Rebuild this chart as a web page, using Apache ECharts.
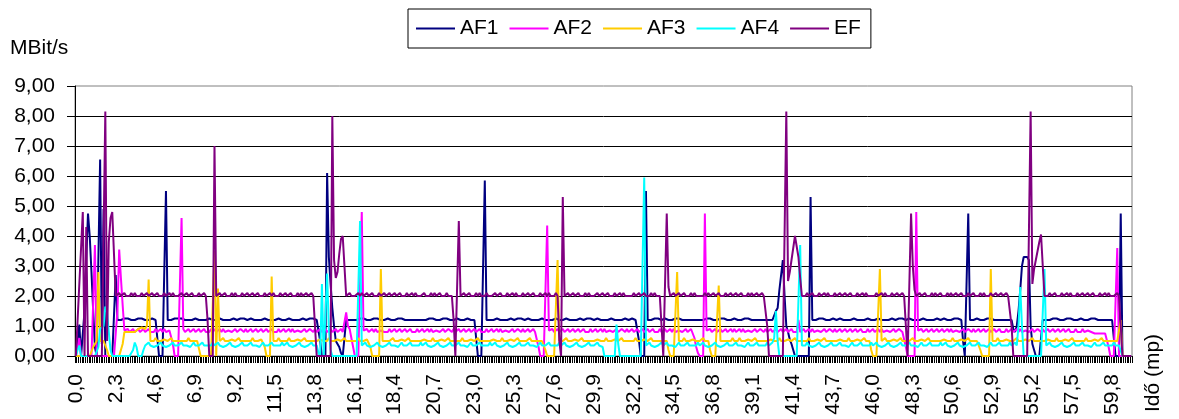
<!DOCTYPE html>
<html><head><meta charset="utf-8">
<script src="https://cdn.jsdelivr.net/npm/echarts@6/dist/echarts.min.js"></script>
<style>html,body{margin:0;padding:0;background:#fff}#c{width:1179px;height:419px}</style>
</head><body><div id="c"></div>
<script>
// ---- data ----
const seriesNames = ['AF1', 'AF2', 'AF3', 'AF4', 'EF'];
const seriesColors = ['#000080', '#FF00FF', '#FFCC00', '#00FFFF', '#800080'];
const yAxisName = 'MBit/s';
const xAxisName = 'Idő (mp)';
const pointCount = 610;      // samples 0,0 .. 60,9 s, step 0,1
const timeStep = 0.1;
const categories = [];
for (let i = 0; i < pointCount; i++) categories.push((i * timeStep).toFixed(1).replace('.', ','));

const AF1 = [
/*0*/   0,0.5,1.05,0,0,1.5,3.2,4.75,4,2.8,  1.5,0.3,0,0,6.55,0.4,4.9,0,0,0,
/*20*/  0,0,0,2.7,1.2,1.25,1.2,1.2,1.25,1.2,  1.25,1.2,1.2,1.25,1.2,1.2,1.25,1.2,1.25,1.2,
/*40*/  1.2,1.25,1.2,1.2,1.25,1.2,1.2,0.6,0,0,  0,0,5.5,1.2,1.25,1.2,1.2,1.25,1.2,1.25,
/*60*/  1.2,1.25,1.2,1.2,1.25,1.2,1.25,1.2,1.2,1.25,  1.2,1.2,1.25,1.2,1.25,1.2,1.2,1.25,1.2,1.2,
/*80*/  1.25,1.2,1.2,1.25,1.2,1.2,1.25,1.2,1.25,1.2,  1.2,1.25,1.2,1.2,1.2,1.25,1.2,1.25,1.2,1.2,
/*100*/ 1.2,1.25,1.2,1.2,1.25,1.2,1.25,1.2,1.2,1.25,  1.2,1.2,1.25,1.2,1.25,1.2,1.2,1.25,1.2,1.2,
/*120*/ 1.25,1.2,1.2,1.25,1.2,1.2,1.25,1.2,1.25,1.2,  1.2,1.25,1.2,1.2,1.2,1.25,1.2,1.25,1.2,1.2,
/*140*/ 1.2,0.5,0,0,0,6.1,3.3,2.4,1.6,1,  0.5,0.4,0.3,0.1,0,0,1.2,1.25,1.2,1.2,
/*160*/ 1.2,1.25,1.2,1.2,1.25,1.2,1.25,1.2,1.2,1.25,  1.2,1.2,1.25,1.2,1.25,1.2,1.2,1.25,1.2,1.2,
/*180*/ 1.25,1.2,1.2,1.25,1.2,1.2,1.25,1.2,1.25,1.2,  1.2,1.25,1.2,1.2,1.2,1.25,1.2,1.25,1.2,1.2,
/*200*/ 1.2,1.25,1.2,1.2,1.25,1.2,1.25,1.2,1.2,1.25,  1.2,1.2,1.25,1.2,1.25,1.2,1.2,1.25,1.2,1.2,
/*220*/ 1.25,1.2,1.2,1.25,1.2,1.2,1.25,1.2,1.2,1.25,  1.2,0.6,0,0,0,0,5.85,1.2,1.25,1.2,
/*240*/ 1.25,1.2,1.2,1.25,1.2,1.2,1.25,1.2,1.25,1.2,  1.2,1.25,1.2,1.2,1.2,1.25,1.2,1.25,1.2,1.2,
/*260*/ 1.2,1.25,1.2,1.2,1.25,1.2,1.25,1.2,1.2,1.25,  1.2,1.2,1.25,1.2,1.25,1.2,1.2,1.25,1.2,1.2,
/*280*/ 1.25,1.2,1.2,1.25,1.2,1.2,1.25,1.2,1.25,1.2,  1.2,1.25,1.2,1.2,1.2,1.25,1.2,1.25,1.2,1.2,
/*300*/ 1.2,1.25,1.2,1.2,1.25,1.2,1.25,1.2,1.2,1.25,  1.2,1.2,1.25,1.2,1.25,1.2,1.2,1.25,1.2,1.2,
/*320*/ 1.2,1.25,1.2,1.2,1.2,0.5,0,0,0,5.5,  1.2,1.25,1.2,1.2,1.25,1.2,1.25,1.2,1.2,1.25,
/*340*/ 1.25,1.2,1.2,1.25,1.2,1.2,1.25,1.2,1.25,1.2,  1.2,1.25,1.2,1.2,1.2,1.25,1.2,1.25,1.2,1.2,
/*360*/ 1.2,1.25,1.2,1.2,1.25,1.2,1.25,1.2,1.2,1.25,  1.2,1.2,1.25,1.2,1.25,1.2,1.2,1.25,1.2,1.2,
/*380*/ 1.25,1.2,1.2,1.25,1.2,1.2,1.25,1.2,1.25,1.2,  1.2,1.25,1.2,1.2,1.2,1.25,1.2,1.25,1.2,1.2,
/*400*/ 1.2,1.25,1.2,1.2,1.5,1.6,2.2,2.25,3.2,2,  1,0.8,0.55,0.4,0.2,0,0,0,0,0,
/*420*/ 0,0,0,0,5.3,1.2,1.25,1.2,1.2,1.25,  1.2,1.25,1.2,1.2,1.25,1.2,1.2,1.25,1.2,1.2,
/*440*/ 1.2,1.25,1.2,1.2,1.25,1.2,1.25,1.2,1.2,1.25,  1.2,1.2,1.25,1.2,1.25,1.2,1.2,1.25,1.2,1.2,
/*460*/ 1.25,1.2,1.2,1.25,1.2,1.2,1.25,1.2,1.25,1.2,  1.2,1.25,1.2,1.2,1.2,1.25,1.2,1.25,1.2,1.2,
/*480*/ 1.2,1.25,1.2,1.2,1.25,1.2,1.25,1.2,1.2,1.25,  1.2,1.2,1.25,1.2,1.25,1.2,1.2,1.25,1.2,1.2,
/*500*/ 1.2,1.25,1.2,1.2,1.25,1.2,1.2,1.25,1.2,1.25,  1.2,1.2,0.5,0,0,4.75,1.2,1.25,1.2,1.2,
/*520*/ 1.25,1.2,1.2,1.25,1.2,1.2,1.25,1.2,1.25,1.2,  1.2,1.25,1.2,1.2,1.2,1.25,1.2,1.25,1.2,1.2,
/*540*/ 1.2,0.9,0.8,1,1.5,2.2,3,3.3,3.3,3.3,  3.2,1,0.4,0.2,0,0,0,0,1.2,1.25,
/*560*/ 1.2,1.25,1.2,1.2,1.25,1.2,1.25,1.2,1.2,1.25,  1.2,1.2,1.25,1.2,1.25,1.2,1.2,1.25,1.2,1.2,
/*580*/ 1.25,1.2,1.2,1.25,1.2,1.2,1.25,1.2,1.25,1.2,  1.2,1.25,1.2,1.2,1.2,1.25,1.2,1.25,1.2,0.6,
/*600*/ 0,0,0,4.75,0,0,0,0,0,0
];

const AF2 = [
/*0*/   0,0.3,0.6,0,0,0,0,0,0,0,  1.8,3.7,0,0,0,0,0,0,0,0,
/*20*/  0,0,0,0,1.5,3.55,2.6,1.7,0.85,0.8,  0.9,0.8,0.8,0.9,0.8,0.85,0.9,0.8,0.8,0.9,
/*40*/  0.8,0.8,0.9,0.8,0.85,0.8,0.9,0.8,0.8,0.9,  0.8,0.9,0.8,0.8,0.85,0.9,0.4,0,0,0,
/*60*/  0,4.6,0.9,0.8,0.8,0.9,0.8,0.85,0.9,0.8,  0.8,0.9,0.8,0.8,0.9,0.8,0.85,0.8,0.9,0.8,
/*80*/  0.9,0.8,0.8,0.9,0.8,0.9,0.8,0.8,0.85,0.9,  0.8,0.8,0.9,0.8,0.8,0.9,0.85,0.8,0.9,0.8,
/*100*/ 0.8,0.9,0.8,0.8,0.9,0.8,0.85,0.9,0.8,0.8,  0.9,0.8,0.8,0.9,0.8,0.85,0.8,0.9,0.8,0.8,
/*120*/ 0.9,0.8,0.8,0.9,0.8,0.9,0.8,0.8,0.85,0.9,  0.8,0.8,0.9,0.8,0.8,0.9,0.85,0.8,0.9,0.8,
/*140*/ 0.8,0.9,0.8,0.8,0.9,0.8,0.85,0.9,0.8,0.8,  0.9,0.8,0.8,0.9,0.8,0.85,1.45,1,0.9,0.6,
/*160*/ 0.3,0,0,0,0,4.8,0.85,0.8,0.9,0.8,  0.8,0.9,0.8,0.9,0.8,0.8,0.85,0.9,0.8,0.8,
/*180*/ 0.8,0.9,0.8,0.8,0.9,0.8,0.85,0.9,0.8,0.8,  0.9,0.8,0.8,0.9,0.8,0.85,0.8,0.9,0.8,0.8,
/*200*/ 0.9,0.8,0.8,0.9,0.8,0.9,0.8,0.8,0.85,0.9,  0.8,0.8,0.9,0.8,0.8,0.9,0.85,0.8,0.9,0.8,
/*220*/ 0.8,0.9,0.8,0.8,0.9,0.8,0.85,0.9,0.8,0.8,  0.9,0.8,0.8,0.9,0.8,0.85,0.8,0.9,0.8,0.8,
/*240*/ 0.9,0.8,0.8,0.9,0.8,0.9,0.8,0.8,0.85,0.9,  0.8,0.8,0.9,0.8,0.8,0.9,0.85,0.8,0.9,0.8,
/*260*/ 0.8,0.9,0.8,0.8,0.9,0.8,0.85,0.3,0,0,  0,0,4.35,0.85,0.8,0.9,0.8,0.8,0.9,0.8,
/*280*/ 0.8,0.9,0.8,0.8,0.9,0.8,0.85,0.9,0.8,0.8,  0.9,0.8,0.8,0.9,0.8,0.85,0.8,0.9,0.8,0.8,
/*300*/ 0.9,0.8,0.8,0.9,0.8,0.9,0.8,0.8,0.85,0.9,  0.8,0.8,0.9,0.8,0.8,0.9,0.85,0.8,0.9,0.8,
/*320*/ 0.8,0.9,0.8,0.8,0.9,0.8,0.85,0.9,0.8,0.8,  0.9,0.8,0.8,0.9,0.8,0.85,0.8,0.9,0.8,0.8,
/*340*/ 0.9,0.8,0.8,0.9,0.8,0.9,0.8,0.8,0.85,0.9,  0.8,0.8,0.9,0.8,0.8,0.9,0.85,0.6,0.3,0.1,
/*360*/ 0,0,0,4.75,0.85,0.8,0.9,0.8,0.8,0.9,  0.8,0.85,0.9,0.8,0.8,0.9,0.8,0.8,0.9,0.8,
/*380*/ 0.9,0.8,0.8,0.9,0.8,0.9,0.8,0.8,0.85,0.9,  0.8,0.8,0.9,0.8,0.8,0.9,0.85,0.8,0.9,0.8,
/*400*/ 0.8,0.9,0.8,0.8,0.9,0.8,0.85,0.9,0.8,0.8,  0.9,0.8,0.8,0.9,0.8,0.85,0.8,1.2,0.8,0.8,
/*420*/ 0.9,0.8,0.8,0.9,0.8,0.9,0.8,0.8,0.85,0.9,  0.8,0.8,0.9,0.8,0.8,0.9,0.85,0.8,0.9,0.8,
/*440*/ 0.8,0.9,0.8,0.8,0.9,0.8,0.85,0.9,0.8,0.8,  0.9,0.8,0.8,0.9,0.8,0.85,0.8,0.9,0.8,0.8,
/*460*/ 0.9,0.8,0.8,0.9,0.8,0.9,0.8,0.8,0.85,0.9,  0.8,0.8,0.9,0.8,0.8,0.9,0.85,0.8,0.85,0.3,
/*480*/ 0,0,0,0,0,4.8,0.85,0.8,0.9,0.8,  0.8,0.9,0.8,0.85,0.9,0.8,0.8,0.9,0.8,0.8,
/*500*/ 0.9,0.8,0.8,0.9,0.8,0.9,0.8,0.8,0.85,0.9,  0.8,0.8,0.9,0.8,0.8,0.9,0.85,0.8,0.9,0.8,
/*520*/ 0.8,0.9,0.8,0.8,0.9,0.8,0.85,0.9,0.8,0.8,  0.9,0.8,0.8,0.9,0.8,0.85,0.8,0.9,0.8,0.8,
/*540*/ 0.9,0.8,0.8,0.9,0.8,0.9,0.8,0.8,0.85,0.9,  0.8,0.8,0.9,0.8,0.8,0.9,0.85,0.8,0.9,0.8,
/*560*/ 0.8,0.9,0.8,0.8,0.9,0.8,0.85,0.9,0.8,0.8,  0.9,0.8,0.8,0.9,0.8,0.85,0.8,0.9,0.8,0.8,
/*580*/ 0.8,0.9,0.8,0.8,0.85,0.8,0.8,0.75,0.75,0.8,  0.75,0.75,0.75,0.8,0.75,0.75,0.3,0,0,0,
/*600*/ 0,3.6,0,0,0,0,0,0,0,0
];

const AF3 = [
/*0*/   0,0,0,0,0,0,0,0,0,0,  0.3,0.4,0.5,2.8,0.5,0.5,0.5,0.5,0.2,0,
/*20*/  0,0,0,0,0,0,0,0.4,0.8,0.8,  0.8,0.75,0.8,0.75,0.8,0.85,0.9,0.9,0.95,0.9,
/*40*/  0.9,1,2.55,0.5,0.5,0.5,0.6,0.5,0.5,0.5,  0.5,0.55,0.5,0.5,0.5,0.6,0.5,0.5,0.5,0.5,
/*60*/  0.5,0.55,0.5,0.5,0.5,0.6,0.5,0.5,0.5,0.5,  0.5,0.25,0,0,0,0,0,0,0,0,
/*80*/  3.5,0,2.25,0.5,0.5,0.6,0.5,0.5,0.5,0.5,  0.55,0.5,0.5,0.5,0.6,0.5,0.5,0.5,0.5,0.5,
/*100*/ 0.5,0.5,0.6,0.5,0.5,0.5,0.5,0.55,0.5,0.3,  0,0,0,2.65,0.5,0.5,0.5,0.6,0.5,0.5,
/*120*/ 0.5,0.5,0.5,0.6,0.5,0.5,0.5,0.5,0.55,0.5,  0.5,0.5,0.6,0.5,0.5,0.5,0.5,0.5,0.55,0.5,
/*140*/ 0.5,0.55,0.5,0.5,0.5,0.5,0.6,0.5,0.5,0.5,  0.5,0.55,0.5,0.5,0.5,0.6,0.5,0.5,0.5,0.5,
/*160*/ 0.5,0.5,0.5,0.6,0.5,0.5,0.5,0.5,0.55,0.5,  0.3,0,0,0,0,0,2.9,0.5,0.5,0.5,
/*180*/ 0.5,0.5,0.5,0.6,0.5,0.5,0.5,0.5,0.55,0.5,  0.5,0.5,0.6,0.5,0.5,0.5,0.5,0.5,0.55,0.5,
/*200*/ 0.5,0.55,0.5,0.5,0.5,0.5,0.6,0.5,0.5,0.5,  0.5,0.55,0.5,0.5,0.5,0.6,0.5,0.5,0.5,0.5,
/*220*/ 0.5,0.5,0.5,0.6,0.5,0.5,0.5,0.5,0.55,0.5,  0.5,0.5,0.6,0.5,0.5,0.5,0.5,0.5,0.55,0.5,
/*240*/ 0.5,0.55,0.5,0.5,0.5,0.5,0.6,0.5,0.5,0.5,  0.5,0.55,0.5,0.5,0.5,0.6,0.5,0.5,0.5,0.5,
/*260*/ 0.5,0.5,0.6,0.5,0.5,0.5,0.55,0.5,0.5,0.5,  0.5,0.2,0,0,0,0,0,0,3.2,0.5,
/*280*/ 0.5,0.5,0.5,0.6,0.5,0.5,0.5,0.5,0.55,0.5,  0.5,0.5,0.6,0.5,0.5,0.5,0.5,0.5,0.55,0.5,
/*300*/ 0.5,0.55,0.5,0.5,0.5,0.5,0.6,0.5,0.5,0.5,  0.5,0.55,0.5,0.5,0.5,0.6,0.5,0.5,0.5,0.5,
/*320*/ 0.5,0.5,0.5,0.6,0.5,0.5,0.5,0.5,0.55,0.5,  0.5,0.5,0.6,0.5,0.5,0.5,0.5,0.5,0.55,0.5,
/*340*/ 0.5,0.5,0.2,0,0,0,0,2.8,0.5,0.5,  0.5,0.6,0.5,0.5,0.5,0.5,0.55,0.5,0.5,0.5,
/*360*/ 0.5,0.5,0.6,0.5,0.5,0.5,0.2,0,0,0,  0,2.35,0.5,0.5,0.5,0.55,0.5,0.5,0.5,0.6,
/*380*/ 0.5,0.5,0.5,0.6,0.5,0.5,0.5,0.5,0.55,0.5,  0.5,0.5,0.6,0.5,0.5,0.5,0.5,0.5,0.55,0.5,
/*400*/ 0.5,0.55,0.5,0.5,0.5,0.5,0.6,0.5,0.5,0.5,  0.5,0.55,0.5,0.5,0.5,0.6,0.5,0.5,0.5,0.5,
/*420*/ 0.5,0.5,0.5,0.6,0.5,0.5,0.5,0.5,0.55,0.5,  0.5,0.5,0.6,0.5,0.5,0.5,0.5,0.5,0.55,0.5,
/*440*/ 0.5,0.55,0.5,0.5,0.5,0.5,0.6,0.5,0.5,0.5,  0.5,0.55,0.5,0.5,0.5,0.6,0.5,0.5,0.5,0.2,
/*460*/ 0,0,0,0,2.9,0.5,0.5,0.6,0.5,0.5,  0.5,0.5,0.55,0.5,0.5,0.5,0.6,0.5,0.5,0.5,
/*480*/ 0.5,0.5,0.5,0.6,0.5,0.5,0.5,0.5,0.55,0.5,  0.5,0.5,0.6,0.5,0.5,0.5,0.5,0.5,0.55,0.5,
/*500*/ 0.5,0.55,0.5,0.5,0.5,0.5,0.6,0.5,0.5,0.5,  0.5,0.55,0.5,0.5,0.5,0.6,0.5,0.5,0.5,0.5,
/*520*/ 0.5,0.5,0.2,0,0,0,0,0,2.9,0.5,  0.5,0.5,0.6,0.5,0.5,0.5,0.5,0.55,0.5,0.5,
/*540*/ 0.5,0.5,0.5,0.6,0.5,0.5,0.5,0.5,0.55,0.5,  0.5,0.5,0.6,0.5,0.5,0.5,0.5,0.5,0.55,0.5,
/*560*/ 0.5,0.55,0.5,0.5,0.5,0.5,0.6,0.5,0.5,0.5,  0.5,0.55,0.5,0.5,0.5,0.6,0.5,0.5,0.5,0.5,
/*580*/ 0.5,0.5,0.5,0.6,0.5,0.5,0.5,0.5,0.55,0.5,  0.5,0.5,0.6,0.5,0.5,0.5,0.5,0.5,0.55,0.5,
/*600*/ 0.5,0.5,0.5,1.2,0,0,0,0,0,0
];

const AF4 = [
/*0*/   0,0.2,0.35,0,0,0,0,0,0,0,  0,0,0,0.3,0.9,0.9,1,1.65,1.45,0.8,
/*20*/  0.2,0,0,0,0,0,0,0,0,0,  0,0,0,0.2,0.45,0.3,0,0,0,0.2,
/*40*/  0.35,0.35,0.45,0.35,0.35,0.3,0.35,0.35,0.35,0.45,  0.35,0.35,0.3,0.35,0.35,0.35,0.45,0.35,0.35,0.35,
/*60*/  0.35,0.45,0.35,0.35,0.35,0.35,0.3,0.35,0.45,0.35,  0.35,0.35,0.35,0.45,0.35,0.3,0.35,0.35,0.35,0.45,
/*80*/  0.35,0.35,0.45,0.35,0.35,0.3,0.35,0.35,0.35,0.45,  0.35,0.35,0.3,0.35,0.35,0.35,0.45,0.35,0.35,0.35,
/*100*/ 0.35,0.45,0.35,0.35,0.35,0.35,0.3,0.35,0.45,0.35,  0.35,0.35,0.35,0.45,0.35,0.3,0.35,0.35,0.35,0.45,
/*120*/ 0.35,0.35,0.45,0.35,0.35,0.3,0.35,0.35,0.35,0.45,  0.35,0.35,0.3,0.35,0.35,0.35,0.45,0.35,0.35,0.35,
/*140*/ 0.1,0,2.4,0,0,2.75,0.9,0.2,0,0,  0,0,0,0,0,0,0,0,0,0,
/*160*/ 0,0,0,0,4.5,0.35,0.35,0.45,0.35,0.35,  0.3,0.35,0.35,0.35,0.45,0.35,0.35,0.3,0.35,0.35,
/*180*/ 0.35,0.45,0.35,0.35,0.35,0.35,0.3,0.35,0.45,0.35,  0.35,0.35,0.35,0.45,0.35,0.3,0.35,0.35,0.35,0.45,
/*200*/ 0.35,0.35,0.45,0.35,0.35,0.3,0.35,0.35,0.35,0.45,  0.35,0.35,0.3,0.35,0.35,0.35,0.45,0.35,0.35,0.35,
/*220*/ 0.35,0.45,0.35,0.35,0.35,0.35,0.3,0.35,0.45,0.35,  0.35,0.35,0.35,0.45,0.35,0.3,0.35,0.35,0.35,0.45,
/*240*/ 0.35,0.35,0.45,0.35,0.35,0.3,0.35,0.35,0.35,0.45,  0.35,0.35,0.3,0.35,0.35,0.35,0.45,0.35,0.35,0.35,
/*260*/ 0.35,0.45,0.35,0.35,0.35,0.35,0.3,0.35,0.45,0.35,  0.35,0.35,0.35,0.45,0.35,0.3,0.35,0.35,0.35,0.45,
/*280*/ 0.35,0.35,0.45,0.35,0.35,0.3,0.35,0.35,0.35,0.45,  0.35,0.35,0.3,0.35,0.35,0.35,0.45,0.35,0.35,0.35,
/*300*/ 0.35,0.45,0.35,0.35,0.3,0,0,0,0,0,  0,0,1.05,0.4,0,0,0,0,0,0,
/*320*/ 0,0,0,0,0,0,0,0,5.95,0.35,  0.35,0.45,0.35,0.35,0.3,0.35,0.35,0.35,0.45,0.35,
/*340*/ 0.35,0.45,0.35,0.35,0.35,0.35,0.3,0.35,0.45,0.35,  0.35,0.35,0.35,0.45,0.35,0.3,0.35,0.35,0.35,0.45,
/*360*/ 0.35,0.35,0.45,0.35,0.35,0.3,0.35,0.35,0.35,0.45,  0.35,0.35,0.3,0.35,0.35,0.35,0.45,0.35,0.35,0.35,
/*380*/ 0.35,0.45,0.35,0.35,0.35,0.35,0.3,0.35,0.45,0.35,  0.35,0.35,0.35,0.45,0.35,0.3,0.35,0.35,0.35,0.45,
/*400*/ 0.35,0.35,0.45,0.6,1.5,0.5,0,0,0,0,  0,0,0,0,0,0,0,0,3.7,0.35,
/*420*/ 0.35,0.35,0.45,0.35,0.35,0.3,0.35,0.35,0.35,0.45,  0.35,0.35,0.3,0.35,0.35,0.35,0.45,0.35,0.35,0.35,
/*440*/ 0.35,0.45,0.35,0.35,0.35,0.35,0.3,0.35,0.45,0.35,  0.35,0.35,0.35,0.45,0.35,0.3,0.35,0.35,0.35,0.45,
/*460*/ 0.35,0.35,0.45,0.35,0.35,0.3,0.35,0.35,0.35,0.45,  0.35,0.35,0.3,0.35,0.35,0.35,0.45,0.35,0.35,0.35,
/*480*/ 0.35,0.45,0.35,0.35,0.35,0.35,0.3,0.35,0.45,0.35,  0.35,0.35,0.35,0.45,0.35,0.3,0.35,0.35,0.35,0.45,
/*500*/ 0.35,0.35,0.45,0.35,0.35,0.3,0.35,0.35,0.35,0.45,  0.35,0.35,0.3,0.35,0.35,0.35,0.45,0.35,0.35,0.35,
/*520*/ 0.35,0.45,0.35,0.35,0.35,0.35,0.3,0.35,0.45,0.35,  0.35,0.35,0.35,0.45,0.35,0.3,0.35,0.35,0.35,0.45,
/*540*/ 0.35,0.35,0.45,0.35,1,2.3,1,0,0,0,  0,0,0,0,0,0,0,0,0,2.9,
/*560*/ 0.35,0.35,0.45,0.35,0.35,0.3,0.35,0.35,0.35,0.45,  0.35,0.35,0.3,0.35,0.35,0.35,0.45,0.35,0.35,0.35,
/*580*/ 0.35,0.45,0.35,0.35,0.35,0.35,0.3,0.35,0.45,0.35,  0.35,0.35,0.35,0.45,0.35,0.3,0.35,0.35,0.35,0.45,
/*600*/ 0.35,0.35,0.35,0.35,0,0,0,0,0,0
];

const EF = [
/*0*/   0,1.2,2.4,3.6,4.8,0,4.3,0,0,0,  0,0,0,0,0,0,0,8.15,0.5,3.8,
/*20*/  4.6,4.8,4.8,2,2,2.1,2,2,2.1,2,  2,2,2.1,2,2.1,2,2,2,2.1,2,
/*40*/  2,2.1,2,2,2.1,2,2,2.1,2,2,  2,2.1,2,2,2.1,2,2.1,2,2,2,
/*60*/  2,2.1,2,2,2.1,2,2,2.1,2,2,  2,2.1,2,2,2.1,2,1.2,0,0,0,
/*80*/  7,2,2,2.1,2,2,2.1,2,2,2,  2.1,2,2.1,2,2,2,2.1,2,2,2.1,
/*100*/ 2,2,2.1,2,2,2.1,2,2,2,2.1,  2,2,2.1,2,2.1,2,2,2,2.1,2,
/*120*/ 2,2.1,2,2,2.1,2,2,2,2.1,2,  2.1,2,2,2.1,2,2,2.1,2,1,0,
/*140*/ 0,0,0,0,0,0,0,0,8,3.2,  2.6,2.8,3.4,3.9,4,4,2,2,2.1,2,
/*160*/ 2,2,2,2.1,2,2.1,2,2,2.1,2,  2,2.1,2,2,2,2.1,2,2,2.1,2,
/*180*/ 2,2.1,2,2,2.1,2,2,2.1,2,2,  2,2.1,2,2,2.1,2,2.1,2,2,2,
/*200*/ 2,2.1,2,2,2,2.1,2,2.1,2,2,  2.1,2,2,2,2.1,2,2,2,1.2,0,
/*220*/ 0,4.5,2,2,2.1,2,2,2.1,2,2,  2,2.1,2,2.1,2,2,2,2.1,2,2,
/*240*/ 2,2,2.1,2,2,2.1,2,2,2,2.1,  2,2,2.1,2,2.1,2,2,2,2.1,2,
/*260*/ 2,2.1,2,2,2.1,2,2,2,2.1,2,  2,2.1,2,2.1,2,2,2,2.1,2,0.5,
/*280*/ 0,5.3,2,2,2.1,2,2,2.1,2,2,  2.1,2,2,2,2.1,2,2.1,2,2,2,
/*300*/ 2,2.1,2,2,2.1,2,2,2.1,2,2,  2,2.1,2,2,2.1,2,2.1,2,2,2,
/*320*/ 2,2,2.1,2,2,2.1,2,2,2.1,2,  2,2,2.1,2,2.1,2,2,2,1,0,
/*340*/ 0,4.75,2.3,2,2,2.1,2,2,2.1,2,  2,2.1,2,2,2,2.1,2,2.1,2,2,
/*360*/ 2,2,2,2.1,2,2.1,2,2,2.1,2,  2,2.1,2,2,2,2.1,2,2,2.1,2,
/*380*/ 2,2.1,2,2,2.1,2,2,2,2.1,2,  2.1,2,2,2.1,2,2,2.1,2,2,1,
/*400*/ 0,0,0,0,0,0,0,0,0,0,  8.15,2.5,2.8,3.2,3.6,4,4.05,3.3,2.6,2,
/*420*/ 2,2,2.1,2,2,2.1,2,2,2,2.1,  2,2,2.1,2,2.1,2,2,2,2.1,2,
/*440*/ 2,2.1,2,2,2.1,2,2,2.1,2,2,  2,2.1,2,2,2.1,2,2.1,2,2,2,
/*460*/ 2,2,2.1,2,2,2.1,2,2.1,2,2,  2,2.1,2,2,2.1,2,2,2.1,2,1,
/*480*/ 0,0,4.75,3,2.2,2,2,2.1,2,2,  2.1,2,2,2,2.1,2,2.1,2,2,2.1,
/*500*/ 2,2,2,2.1,2,2.1,2,2,2.1,2,  2,2.1,2,2,2,2.1,2,2,2.1,2,
/*520*/ 2,2,2.1,2,2.1,2,2,2,2.1,2,  2,2.1,2,2,2.1,2,2,2.1,2,2,
/*540*/ 1,0,0,0,0,0,0,0,0,0,  0,8.15,2.4,2.9,3.2,3.5,3.8,4.05,3,2,
/*560*/ 2,2,2.1,2,2,2.1,2,2,2,2.1,  2,2,2.1,2,2.1,2,2,2,2.1,2,
/*580*/ 2,2.1,2,2,2.1,2,2,2.1,2,2,  2,2.1,2,2,2.1,2,2.1,2,2,2,
/*600*/ 2,2.1,2,1,0,0,0,0,0,0
];

const seriesData = [AF1, AF2, AF3, AF4, EF];
seriesData.forEach((d, k) => { if (d.length !== pointCount) throw new Error(seriesNames[k] + ' length ' + d.length); });

const yMin = 0, yMax = 9, yStep = 1;

// ---- chart ----
const FONT = '"Liberation Sans", Arial, sans-serif';
const chart = echarts.init(document.getElementById('c'), null, { renderer: 'canvas' });
chart.setOption({
  animation: false,
  backgroundColor: '#ffffff',
  textStyle: { fontFamily: FONT, color: '#000' },
  grid: { left: 75, right: 47, top: 86, bottom: 63, show: true, borderColor: '#808080', borderWidth: 1, backgroundColor: 'transparent' },
  legend: {
    data: seriesNames,
    left: 408, top: 9,
    icon: 'rect',
    itemWidth: 39, itemHeight: 2, itemGap: 11,
    padding: [9, 10, 9, 8],
    borderColor: '#000', borderWidth: 1,
    textStyle: { fontFamily: FONT, fontSize: 21, color: '#000' }
  },
  xAxis: {
    type: 'category',
    data: categories,
    boundaryGap: true,
    axisLine: { show: true, lineStyle: { color: '#000', width: 1 } },
    axisTick: { show: true, interval: 0, length: 7, lineStyle: { color: '#000', width: 1 } },
    axisLabel: { interval: 22, rotate: 90, margin: 18, fontSize: 21, fontFamily: FONT, color: '#000' },
    splitLine: { show: false }
  },
  yAxis: {
    type: 'value',
    min: yMin, max: yMax, interval: yStep,
    axisLine: { show: true, lineStyle: { color: '#000', width: 1 } },
    axisTick: { show: true, length: 8, lineStyle: { color: '#000' } },
    axisLabel: { margin: 20, fontSize: 21, fontFamily: FONT, color: '#000',
      formatter: v => v.toFixed(2).replace('.', ',') },
    splitLine: { show: true, showMaxLine: false, lineStyle: { color: '#000', width: 1 } }
  },
  graphic: [
    { type: 'text', left: 10, top: 38, style: { text: yAxisName, font: '21px ' + FONT, fill: '#000' } },
    { type: 'text', x: 1153, y: 373, rotation: Math.PI / 2,
      style: { text: xAxisName, font: '21px ' + FONT, fill: '#000', align: 'center', verticalAlign: 'middle' } }
  ],
  series: seriesNames.map((n, k) => ({
    name: n, type: 'line', data: seriesData[k],
    symbol: 'none', showSymbol: false,
    lineStyle: { color: seriesColors[k], width: 2 },
    itemStyle: { color: seriesColors[k] },
    emphasis: { disabled: true }
  }))
});
</script>
</body></html>
